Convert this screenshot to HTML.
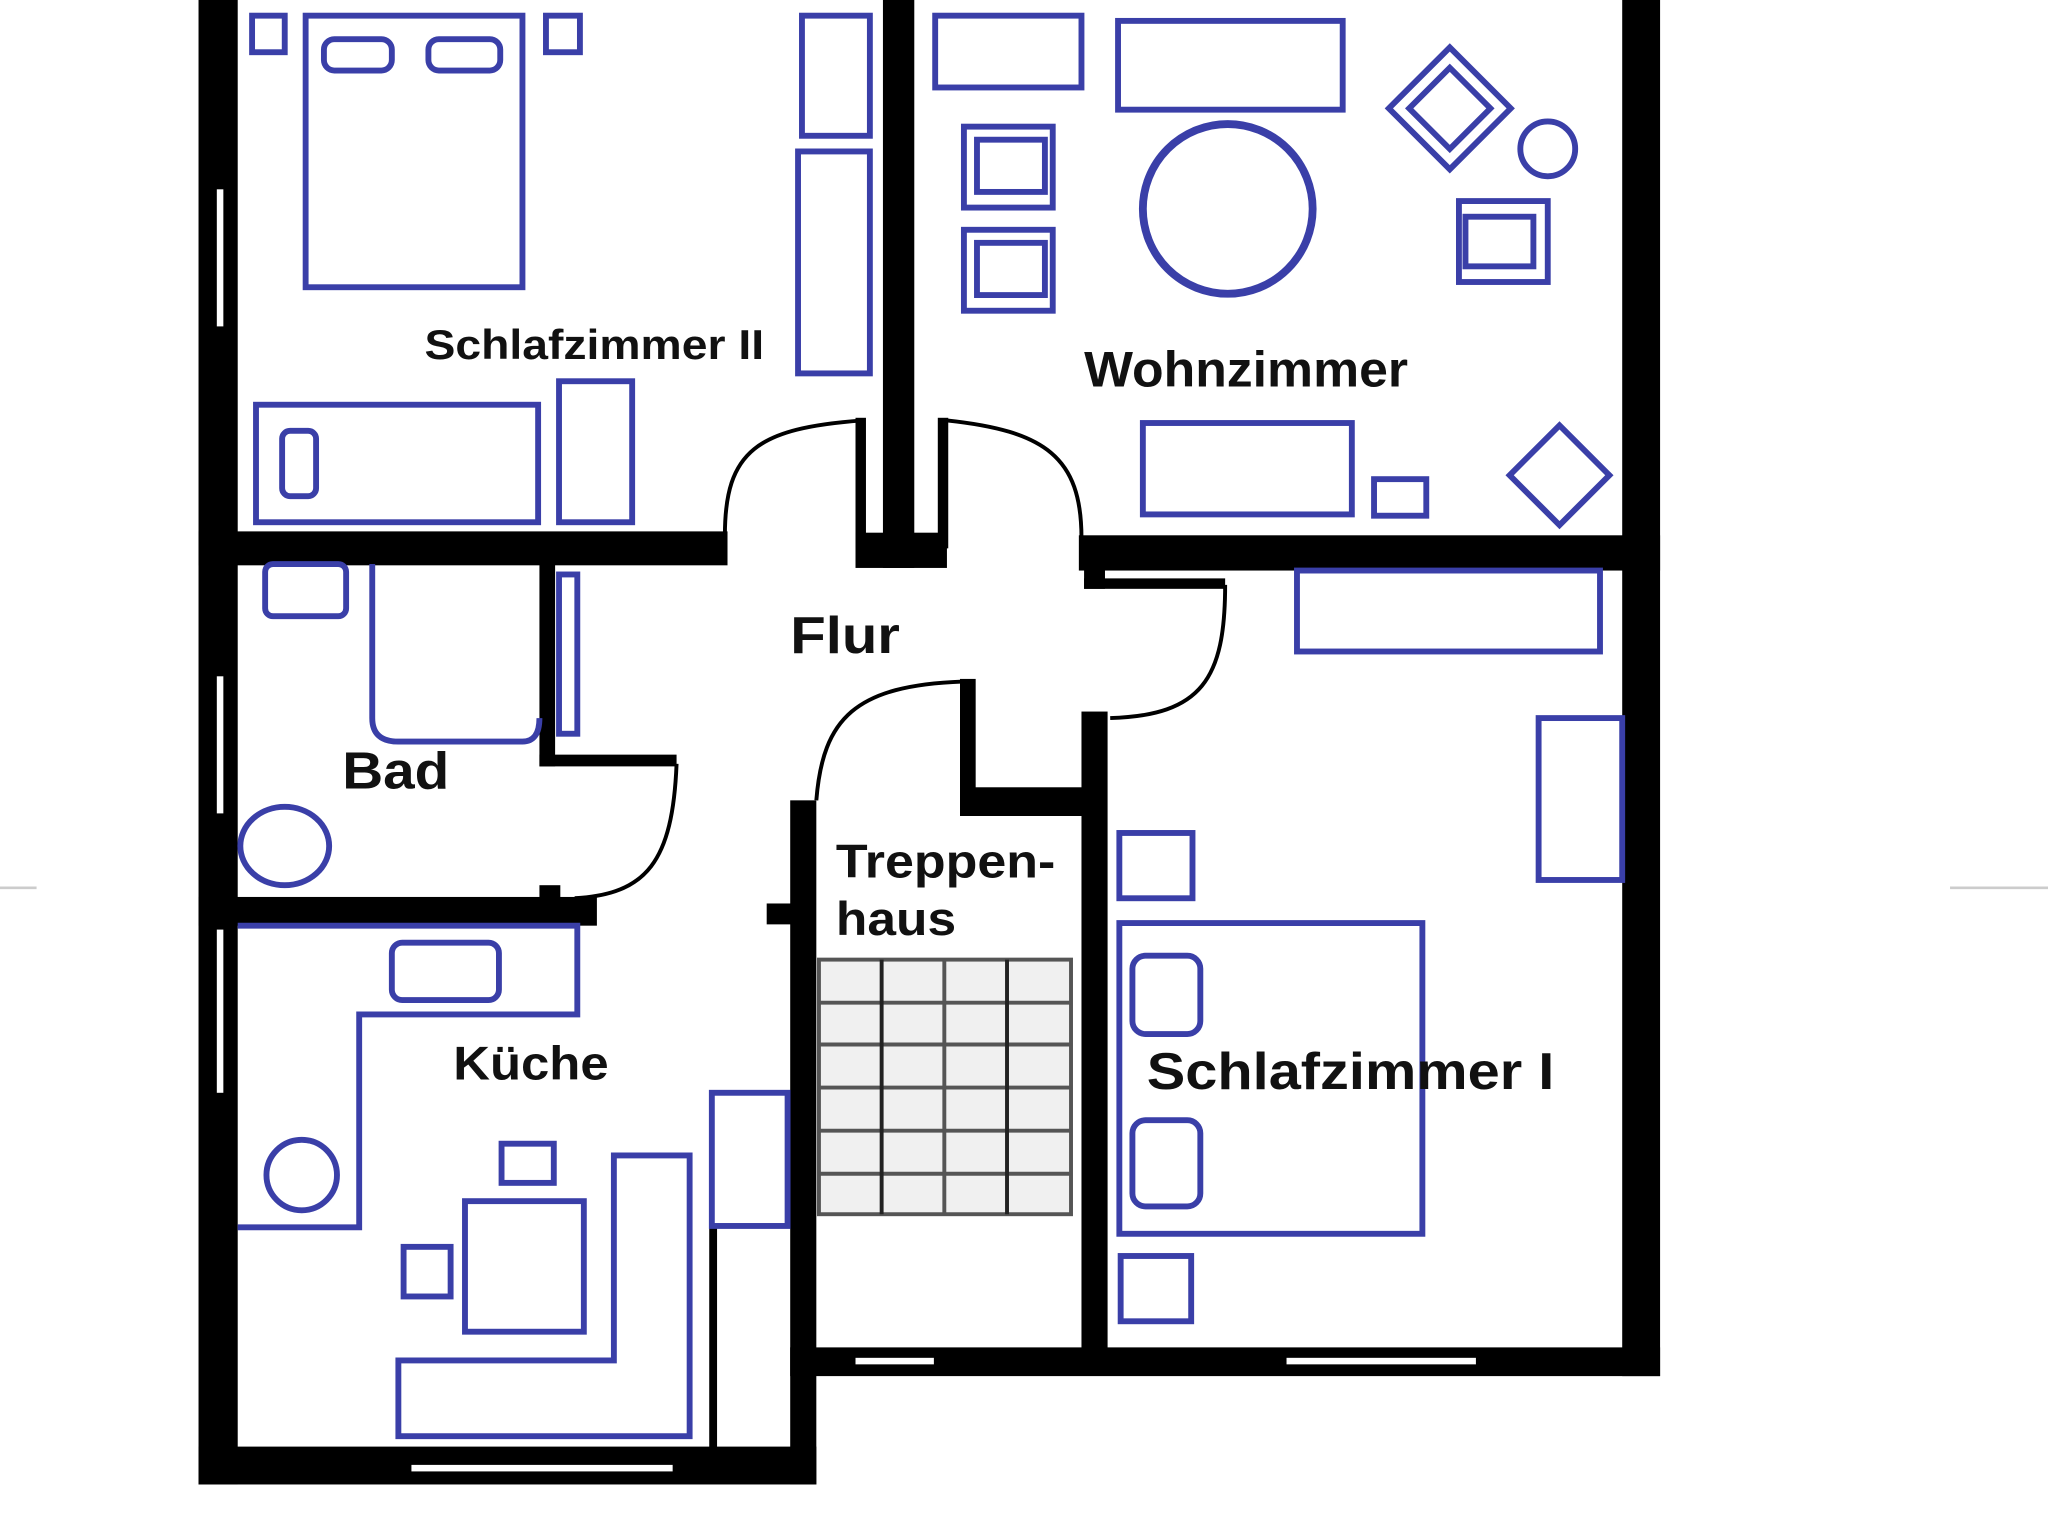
<!DOCTYPE html>
<html><head><meta charset="utf-8"><style>
html,body{margin:0;padding:0;background:#fff;}
svg{display:block}
text{font-family:"Liberation Sans",sans-serif;font-weight:bold;fill:#111}
</style></head><body>
<svg width="2048" height="1538" viewBox="0 0 1568 1178" preserveAspectRatio="none" xmlns="http://www.w3.org/2000/svg">
<rect width="1568" height="1178" fill="#fff"/>
<line x1="0" y1="680" x2="28" y2="680" stroke="#ccc" stroke-width="2"/>
<line x1="1493" y1="680" x2="1568" y2="680" stroke="#ccc" stroke-width="2"/>
<g fill="#000">
<rect x="152" y="0" width="30" height="1137"/>
<rect x="1242" y="0" width="29" height="1054"/>
<rect x="152" y="1108" width="473" height="29"/>
<rect x="605" y="1032" width="666" height="22"/>
<rect x="605" y="613" width="20" height="524"/>
<rect x="587" y="692" width="20" height="16"/>
<rect x="676" y="0" width="24" height="435"/>
<rect x="655" y="408" width="70" height="27"/>
<rect x="655" y="320" width="8" height="100"/>
<rect x="718" y="320" width="8" height="100"/>
<rect x="152" y="407" width="405" height="26"/>
<rect x="826" y="410" width="445" height="27"/>
<rect x="830" y="435" width="16" height="16"/>
<rect x="830" y="443" width="108" height="8"/>
<rect x="413" y="432" width="12" height="155"/>
<rect x="413" y="578" width="105" height="9"/>
<rect x="152" y="687" width="305" height="22"/>
<rect x="413" y="678" width="16" height="12"/>
<rect x="735" y="520" width="12" height="96"/>
<rect x="735" y="603" width="95" height="22"/>
<rect x="828" y="545" width="20" height="500"/>
<rect x="543" y="940" width="6" height="170"/>
</g>
<g fill="#fff">
<rect x="166" y="145" width="5" height="105"/>
<rect x="166" y="518" width="5" height="105"/>
<rect x="166" y="712" width="5" height="125"/>
<rect x="315" y="1122" width="200" height="5"/>
<rect x="655" y="1040" width="60" height="5"/>
<rect x="985" y="1040" width="145" height="5"/>
</g>
<g fill="none" stroke="#000" stroke-width="3">
<path d="M555 410 C555 345 580 328 660 322"/>
<path d="M725 322 C800 330 828 350 828 412"/>
<path d="M938 448 C938 520 920 548 850 550"/>
<path d="M625 613 C630 550 655 525 737 522"/>
<path d="M518 585 C515 660 495 685 440 688"/>
</g>
<g fill="none" stroke="#3a3fa8" stroke-width="4.5">
<rect x="193" y="12" width="25" height="28"/>
<rect x="418" y="12" width="26" height="28"/>
<rect x="234" y="12" width="166" height="208"/>
<rect x="248" y="30" width="52" height="24" rx="8"/>
<rect x="328" y="30" width="55" height="24" rx="8"/>
<rect x="614" y="12" width="52" height="92"/>
<rect x="611" y="116" width="55" height="170"/>
<rect x="196" y="310" width="216" height="90"/>
<rect x="216" y="330" width="26" height="50" rx="6"/>
<rect x="428" y="292" width="56" height="108"/>
<rect x="716" y="12" width="112" height="55"/>
<rect x="856" y="16" width="172" height="68"/>
<circle cx="940" cy="160" r="65" stroke-width="6"/>
<rect x="738" y="97" width="68" height="62"/><rect x="748" y="107" width="52" height="40"/>
<rect x="738" y="176" width="68" height="62"/><rect x="748" y="186" width="52" height="40"/>
<g transform="rotate(45 1110 83)"><rect x="1077" y="50" width="66" height="66"/><rect x="1088" y="61" width="44" height="44"/></g>
<circle cx="1185" cy="114" r="21"/>
<rect x="1117" y="154" width="68" height="62"/><rect x="1122" y="166" width="52" height="38"/>
<rect x="875" y="324" width="160" height="70"/>
<rect x="1052" y="367" width="40" height="28"/>
<rect x="1167" y="337" width="54" height="54" transform="rotate(45 1194 364)"/>
<rect x="993" y="437" width="232" height="62"/>
<rect x="1178" y="550" width="64" height="124"/>
<rect x="857" y="638" width="56" height="50"/>
<rect x="857" y="707" width="232" height="238"/>
<rect x="867" y="732" width="52" height="60" rx="10"/>
<rect x="867" y="858" width="52" height="66" rx="10"/>
<rect x="858" y="962" width="54" height="50"/>
<rect x="203" y="432" width="62" height="40" rx="6"/>
<path d="M285 432 V550 Q285 568 305 568 H400 Q413 568 413 550"/>
<rect x="428" y="440" width="14" height="122"/>
<ellipse cx="218" cy="648" rx="34" ry="30"/>
<path d="M182 709 H442 V777 H275 V940 H182"/>
<rect x="300" y="722" width="82" height="44" rx="8"/>
<circle cx="231" cy="900" r="27"/>
<rect x="384" y="876" width="40" height="30"/>
<rect x="356" y="920" width="91" height="100"/>
<rect x="309" y="955" width="36" height="38"/>
<path d="M305 1042 H470 V885 H528 V1100 H305 Z"/>
<rect x="545" y="837" width="58" height="102"/>
</g>
<g stroke="#555" stroke-width="3" fill="none">
<rect x="627" y="735" width="193" height="195" fill="#f0f0f0"/>
<line x1="627" y1="768" x2="820" y2="768"/>
<line x1="627" y1="800" x2="820" y2="800"/>
<line x1="627" y1="833" x2="820" y2="833"/>
<line x1="627" y1="866" x2="820" y2="866"/>
<line x1="627" y1="899" x2="820" y2="899"/>
<line x1="675" y1="735" x2="675" y2="930" stroke="#222"/>
<line x1="723" y1="735" x2="723" y2="930"/>
<line x1="771" y1="735" x2="771" y2="930" stroke="#222"/>
</g>
<text x="325" y="275" font-size="32" textLength="260" lengthAdjust="spacingAndGlyphs">Schlafzimmer II</text>
<text x="830" y="296" font-size="38" textLength="248" lengthAdjust="spacingAndGlyphs">Wohnzimmer</text>
<text x="605" y="500" font-size="40" textLength="84" lengthAdjust="spacingAndGlyphs">Flur</text>
<text x="262" y="604" font-size="40" textLength="82" lengthAdjust="spacingAndGlyphs">Bad</text>
<text x="640" y="672" font-size="36" textLength="168" lengthAdjust="spacingAndGlyphs">Treppen-</text>
<text x="640" y="716" font-size="36" textLength="92" lengthAdjust="spacingAndGlyphs">haus</text>
<text x="347" y="827" font-size="36" textLength="119" lengthAdjust="spacingAndGlyphs">Küche</text>
<text x="878" y="834" font-size="40" textLength="312" lengthAdjust="spacingAndGlyphs">Schlafzimmer I</text>
</svg>
</body></html>
